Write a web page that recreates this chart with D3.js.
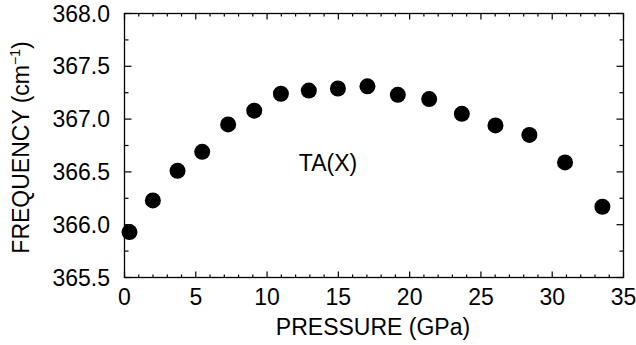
<!DOCTYPE html>
<html>
<head>
<meta charset="utf-8">
<script src="https://cdn.jsdelivr.net/npm/d3@7"></script>
<style>
	body { margin: 0; background: #fff; }
	text { font-family: "Liberation Sans", Arial, sans-serif; fill: #000; }
</style>
</head>
<body>
<svg id="chart" width="636" height="345"></svg>
<script>
// pressure (GPa) and frequency (cm-1)
var pressure = [0.35, 1.99, 3.72, 5.45, 7.27, 9.10, 10.97, 12.93, 14.97,
	17.04, 19.17, 21.37, 23.66, 26.02, 28.40, 30.90, 33.52];
var frequency = [365.93, 366.23, 366.51, 366.69, 366.95, 367.08, 367.24,
	367.27, 367.29, 367.31, 367.23, 367.19, 367.05, 366.94, 366.85, 366.59, 366.17];

var xTicks = [0, 5, 10, 15, 20, 25, 30, 35];
var yTicks = [365.5, 366.0, 366.5, 367.0, 367.5, 368.0];

// plot box (window.top is reserved, so use other names)
var plotL = 124.5, plotR = 623.5, plotT = 13.5, plotB = 277.5;
var fontSize = "23px";

var svg = d3.select("#chart");

var x = d3.scaleLinear().domain([0, 35]).range([plotL, plotR]);
var y = d3.scaleLinear().domain([365.5, 368.0]).range([plotB, plotT]);

var xMinor = d3.range(0, 36, 1);
var yMinor = d3.range(365.5, 368.01, 0.25);

// frame
svg.append("rect")
	.attr("x", plotL)
	.attr("y", plotT)
	.attr("width", plotR - plotL)
	.attr("height", plotB - plotT)
	.style("fill", "none")
	.style("stroke", "#000")
	.style("stroke-width", 1.3);

// inward ticks on all four sides
var ticks = svg.append("g").style("stroke", "#000").style("stroke-width", 1.2);

xMinor.forEach(function (d) {
	var len = d % 5 === 0 ? 6 : 3;
	ticks.append("line")
	.attr("x1", x(d)).attr("x2", x(d))
	.attr("y1", plotB).attr("y2", plotB - len);
	ticks.append("line")
	.attr("x1", x(d)).attr("x2", x(d))
	.attr("y1", plotT).attr("y2", plotT + len);
});

yMinor.forEach(function (d, i) {
	var len = i % 2 === 0 ? 7 : 4;
	ticks.append("line")
	.attr("x1", plotL).attr("x2", plotL + len)
	.attr("y1", y(d)).attr("y2", y(d));
	ticks.append("line")
	.attr("x1", plotR).attr("x2", plotR - len)
	.attr("y1", y(d)).attr("y2", y(d));
});

// tick labels
svg.append("g").selectAll("text")
	.data(xTicks)
	.enter().append("text")
	.attr("x", function (d) { return x(d); })
	.attr("y", 305)
	.style("text-anchor", "middle")
	.style("font-size", fontSize)
	.text(function (d) { return d; });

svg.append("g").selectAll("text")
	.data(yTicks)
	.enter().append("text")
	.attr("x", 110)
	.attr("y", function (d) { return y(d) + 8; })
	.style("text-anchor", "end")
	.style("font-size", fontSize)
	.text(function (d) { return d.toFixed(1); });

// axis titles
svg.append("text")
	.attr("x", (plotL + plotR) / 2 - 1)
	.attr("y", 335)
	.style("text-anchor", "middle")
	.style("font-size", fontSize)
	.text("PRESSURE (GPa)");

var yTitle = svg.append("text")
	.attr("transform", "translate(29," + ((plotT + plotB) / 2 + 2) + ") rotate(-90)")
	.style("text-anchor", "middle")
	.style("font-size", fontSize);
yTitle.append("tspan").text("FREQUENCY (cm");
yTitle.append("tspan").attr("dy", -9).style("font-size", "14px").text("\u22121");
yTitle.append("tspan").attr("dy", 9).text(")");

// label inside plot
svg.append("text")
	.attr("x", 328)
	.attr("y", 171)
	.style("text-anchor", "middle")
	.style("font-size", fontSize)
	.text("TA(X)");

// data points
svg.append("g").selectAll("circle")
	.data(pressure)
	.enter().append("circle")
	.attr("cx", function (d) { return x(d); })
	.attr("cy", function (d, i) { return y(frequency[i]); })
	.attr("r", 8)
	.style("fill", "#000");
</script>
</body>
</html>
